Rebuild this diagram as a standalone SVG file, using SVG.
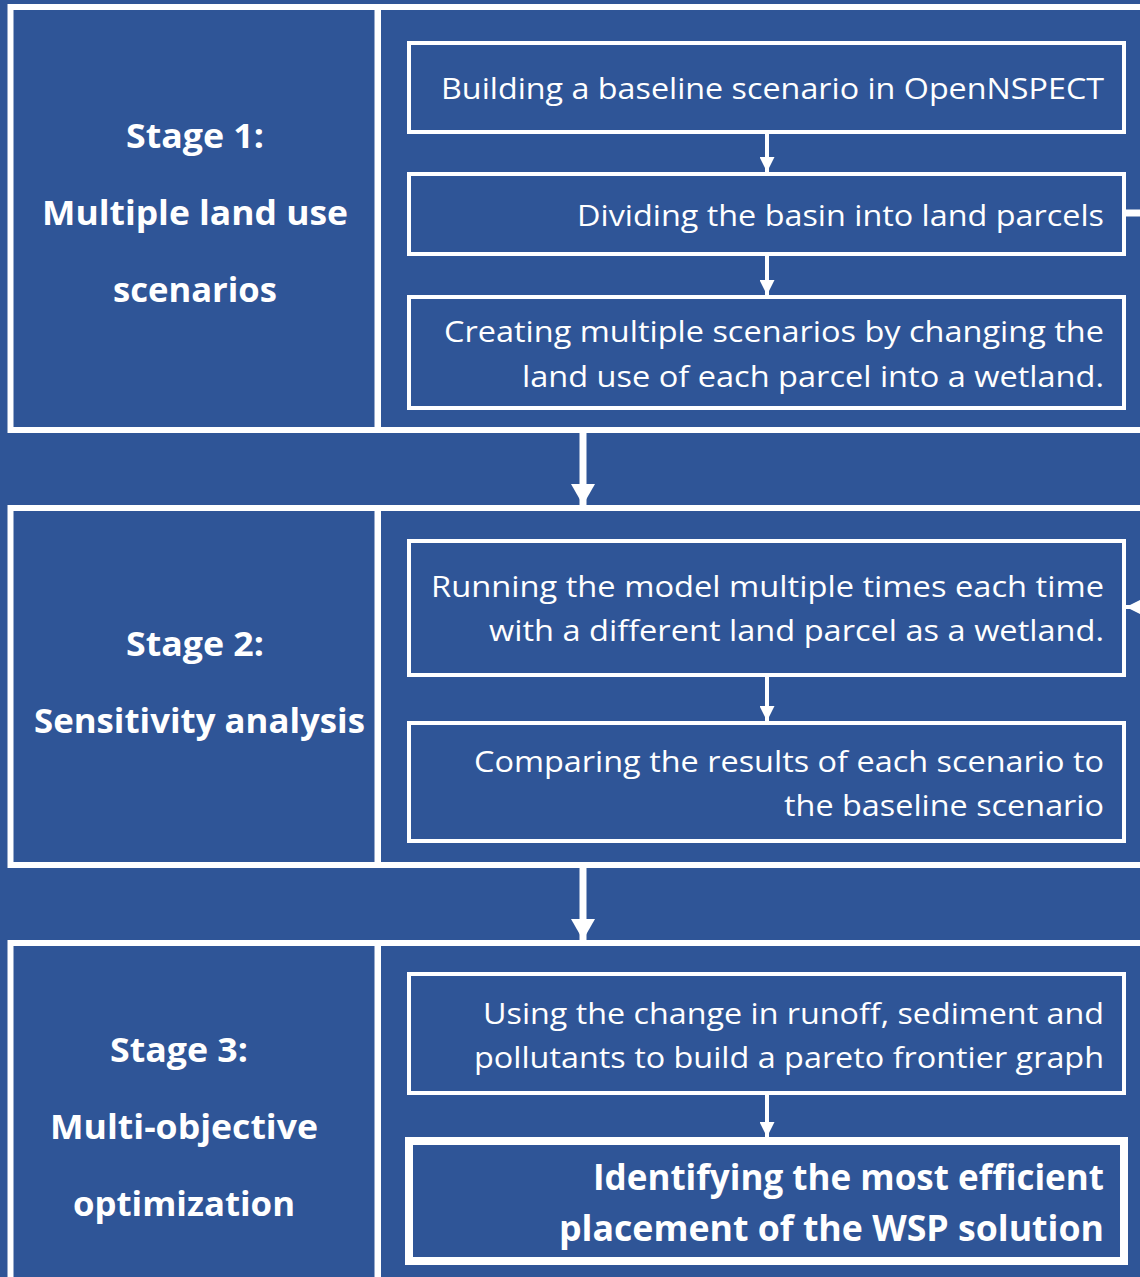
<svg xmlns="http://www.w3.org/2000/svg" width="1140" height="1277" viewBox="0 0 1140 1277">
<defs>
<style>
.panel{fill:#2F5597;stroke:#FFFFFF;stroke-width:6}
.box{fill:#2F5597;stroke:#FFFFFF;stroke-width:4}
.boxb{fill:#2F5597;stroke:#FFFFFF;stroke-width:8}
.t{font-family:"Open Sans","Liberation Sans",sans-serif;font-size:29.5px;fill:#FFFFFF;text-anchor:end}
.tb{font-family:"Open Sans","Liberation Sans",sans-serif;font-size:35px;font-weight:bold;fill:#FFFFFF;text-anchor:end}
.st{font-family:"Open Sans","Liberation Sans",sans-serif;font-size:33.5px;font-weight:bold;fill:#FFFFFF;text-anchor:middle}
.thin{stroke:#FFFFFF;stroke-width:4;fill:none}
.thick{stroke:#FFFFFF;stroke-width:7;fill:none}
</style>
<marker id="ah" markerUnits="userSpaceOnUse" markerWidth="16" markerHeight="15" refX="15" refY="7.5" orient="auto">
<path d="M0,0 L15,7.5 L0,15 Z" fill="#FFFFFF"/>
</marker>
<marker id="ahb" markerUnits="userSpaceOnUse" markerWidth="22" markerHeight="24" refX="21" refY="12" orient="auto">
<path d="M0,0 L21,12 L0,24 Z" fill="#FFFFFF"/>
</marker>
</defs>
<rect x="0" y="0" width="1140" height="1277" fill="#2F5597"/>

<g id="stage1">
<rect class="panel" x="10.5" y="7" width="367" height="423"/>
<rect class="panel" x="378" y="7" width="800" height="423"/>
<text class="st" x="195" y="148" textLength="138" lengthAdjust="spacingAndGlyphs">Stage 1:</text>
<text class="st" x="195" y="225" textLength="306" lengthAdjust="spacingAndGlyphs">Multiple land use</text>
<text class="st" x="195" y="302" textLength="164" lengthAdjust="spacingAndGlyphs">scenarios</text>
</g>
<g id="stage2">
<rect class="panel" x="10.5" y="508" width="367" height="357"/>
<rect class="panel" x="378" y="508" width="800" height="357"/>
<text class="st" x="195" y="656" textLength="138" lengthAdjust="spacingAndGlyphs">Stage 2:</text>
<text class="st" x="199.5" y="733" textLength="331" lengthAdjust="spacingAndGlyphs">Sensitivity analysis</text>
</g>
<g id="stage3">
<rect class="panel" x="10.5" y="943" width="367" height="400"/>
<rect class="panel" x="378" y="943" width="800" height="400"/>
<text class="st" x="179" y="1062" textLength="138" lengthAdjust="spacingAndGlyphs">Stage 3:</text>
<text class="st" x="184" y="1139" textLength="268" lengthAdjust="spacingAndGlyphs">Multi-objective</text>
<text class="st" x="184" y="1216" textLength="222" lengthAdjust="spacingAndGlyphs">optimization</text>
</g>

<g id="n1">
<rect class="box" x="409" y="43" width="715" height="89"/>
<text class="t" x="1104" y="99" textLength="663" lengthAdjust="spacingAndGlyphs">Building a baseline scenario in OpenNSPECT</text>
</g>
<g id="n2">
<rect class="box" x="409" y="174" width="715" height="80"/>
<text class="t" x="1104" y="226" textLength="527" lengthAdjust="spacingAndGlyphs">Dividing the basin into land parcels</text>
</g>
<g id="n3">
<rect class="box" x="409" y="297" width="715" height="111"/>
<text class="t" x="1104" y="342" textLength="660" lengthAdjust="spacingAndGlyphs">Creating multiple scenarios by changing the</text>
<text class="t" x="1104" y="387" textLength="582" lengthAdjust="spacingAndGlyphs">land use of each parcel into a wetland.</text>
</g>
<g id="n4">
<rect class="box" x="409" y="541" width="715" height="134"/>
<text class="t" x="1104" y="597" textLength="673" lengthAdjust="spacingAndGlyphs">Running the model multiple times each time</text>
<text class="t" x="1104" y="641" textLength="615" lengthAdjust="spacingAndGlyphs">with a different land parcel as a wetland.</text>
</g>
<g id="n5">
<rect class="box" x="409" y="723" width="715" height="118"/>
<text class="t" x="1104" y="772" textLength="630" lengthAdjust="spacingAndGlyphs">Comparing the results of each scenario to</text>
<text class="t" x="1104" y="816" textLength="320" lengthAdjust="spacingAndGlyphs">the baseline scenario</text>
</g>
<g id="n6">
<rect class="box" x="409" y="974" width="715" height="119"/>
<text class="t" x="1104" y="1024" textLength="621" lengthAdjust="spacingAndGlyphs">Using the change in runoff, sediment and</text>
<text class="t" x="1104" y="1068" textLength="630" lengthAdjust="spacingAndGlyphs">pollutants to build a pareto frontier graph</text>
</g>
<g id="n7">
<rect class="boxb" x="409" y="1141" width="715" height="120"/>
<text class="tb" x="1104" y="1190" textLength="511" lengthAdjust="spacingAndGlyphs">Identifying the most efficient</text>
<text class="tb" x="1104" y="1241" textLength="545" lengthAdjust="spacingAndGlyphs">placement of the WSP solution</text>
</g>

<g id="connectors">
<line class="thin" x1="767" y1="134" x2="767" y2="172" marker-end="url(#ah)"/>
<line class="thin" x1="767" y1="256" x2="767" y2="295" marker-end="url(#ah)"/>
<line class="thin" x1="767" y1="677" x2="767" y2="721" marker-end="url(#ah)"/>
<line class="thin" x1="767" y1="1095" x2="767" y2="1137" marker-end="url(#ah)"/>
<line class="thick" x1="583" y1="433" x2="583" y2="505" marker-end="url(#ahb)"/>
<line class="thick" x1="583" y1="868" x2="583" y2="940" marker-end="url(#ahb)"/>
<polyline class="thick" points="1126,213 1160,213 1160,607"/>
<line class="thin" x1="1160" y1="607" x2="1126" y2="607" marker-end="url(#ah)"/>
</g>
</svg>
